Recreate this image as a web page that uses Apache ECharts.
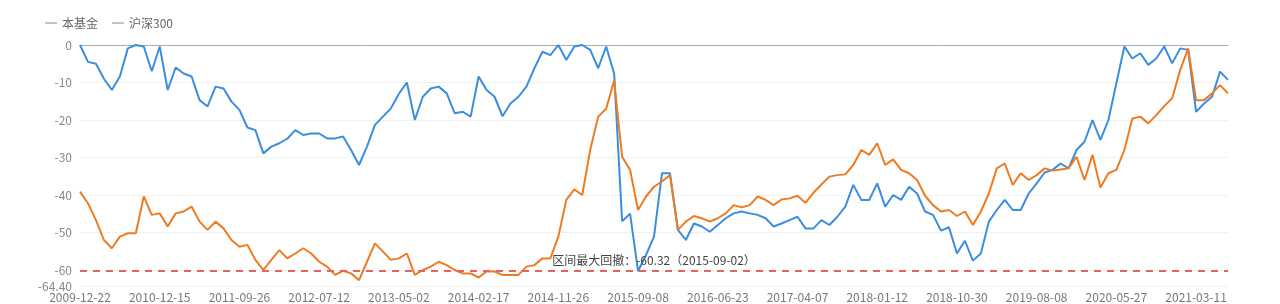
<!DOCTYPE html>
<html>
<head>
<meta charset="utf-8">
<script src="https://cdn.jsdelivr.net/npm/echarts@6/dist/echarts.min.js"></script>
<style>html,body{margin:0;padding:0;background:#fff}#c{width:1280px;height:304px}</style>
</head>
<body>
<div id="c"></div>
<script>
const seriesNames = ['本基金', '沪深300'];
const dates = [
'2009-12-22','2010-01-27','2010-03-04','2010-04-09','2010-05-17','2010-06-22','2010-07-28','2010-09-02','2010-10-11','2010-11-10',
'2010-12-15','2011-01-12','2011-02-10','2011-03-10','2011-04-08','2011-05-06','2011-06-03','2011-07-01','2011-07-29','2011-08-26',
'2011-09-26','2011-10-25','2011-11-22','2011-12-20','2012-01-18','2012-02-17','2012-03-16','2012-04-16','2012-05-15','2012-06-13',
'2012-07-12','2012-08-09','2012-09-07','2012-10-12','2012-11-09','2012-12-07','2013-01-08','2013-02-05','2013-03-08','2013-04-03',
'2013-05-02','2013-05-30','2013-06-28','2013-07-26','2013-08-23','2013-09-24','2013-10-25','2013-11-22','2013-12-20','2014-01-20',
'2014-02-17','2014-03-17','2014-04-14','2014-05-13','2014-06-10','2014-07-08','2014-08-05','2014-09-02','2014-09-30','2014-10-29',
'2014-11-26','2014-12-24','2015-01-22','2015-02-16','2015-03-20','2015-04-17','2015-05-15','2015-06-12','2015-07-10','2015-08-07',
'2015-09-08','2015-10-12','2015-11-09','2015-12-07','2016-01-05','2016-02-02','2016-03-08','2016-04-06','2016-05-04','2016-06-01',
'2016-06-23','2016-07-21','2016-08-18','2016-09-19','2016-10-24','2016-11-21','2016-12-19','2017-01-17','2017-02-20','2017-03-20',
'2017-04-07','2017-05-05','2017-06-02','2017-06-30','2017-07-28','2017-08-25','2017-09-22','2017-10-27','2017-11-24','2017-12-22',
'2018-01-12','2018-02-09','2018-03-14','2018-04-13','2018-05-14','2018-06-12','2018-07-11','2018-08-08','2018-09-05','2018-10-10',
'2018-10-30','2018-11-27','2018-12-25','2019-01-23','2019-02-27','2019-03-27','2019-04-25','2019-05-27','2019-06-25','2019-07-23',
'2019-08-08','2019-09-05','2019-10-10','2019-11-07','2019-12-05','2020-01-06','2020-02-10','2020-03-10','2020-04-08','2020-05-07',
'2020-05-27','2020-06-24','2020-07-23','2020-08-20','2020-09-17','2020-10-22','2020-11-19','2020-12-17','2021-01-15','2021-02-10',
'2021-03-11','2021-04-08','2021-05-07','2021-06-04','2021-07-02'
];
const fundDrawdown = [
0,-4.5,-5,-9,-12,-8.4,-0.9,0,-0.4,-7,
-0.4,-12,-6,-7.6,-8.4,-14.7,-16.4,-11.1,-11.6,-15.1,
-17.3,-22,-22.7,-28.9,-27.1,-26.2,-25,-22.7,-24,-23.6,
-23.6,-24.9,-24.9,-24.4,-28,-32,-27.1,-21.3,-19.1,-16.9,
-13,-10,-20,-13.8,-11.6,-11.1,-12.9,-18.2,-17.8,-19.1,
-8.4,-12,-13.8,-19,-15.6,-13.8,-11.1,-6.2,-1.8,-2.7,
0,-4,-0.4,0,-1.3,-6.2,-0.4,-7.6,-47,-45,
-60.32,-56,-51.1,-34.2,-34.2,-49.3,-52,-47.6,-48.4,-49.8,
-48,-46.2,-44.9,-44.4,-44.9,-45.3,-46.2,-48.4,-47.6,-46.7,
-45.8,-48.9,-48.9,-46.7,-48,-45.8,-43.1,-37.3,-41.3,-41.3,
-36.9,-43.1,-40,-41.3,-37.8,-39.6,-44.4,-45.3,-49.5,-48.6,
-55.6,-52.2,-57.5,-55.6,-47.1,-44,-41.3,-44,-44,-39.6,
-36.9,-34,-33.3,-31.6,-32.9,-28,-25.8,-20,-25.3,-20,
-10.2,-0.4,-3.6,-2.2,-5.3,-3.6,-0.4,-4.9,-0.9,-1.3,
-17.8,-15.6,-13.8,-7.1,-9.3
];
const hs300Drawdown = [
-39.1,-42.2,-46.7,-52,-54.2,-51.1,-50.2,-50.2,-40.4,-45.3,
-44.9,-48.4,-44.9,-44.4,-43.1,-47.1,-49.3,-47.1,-48.9,-52,
-53.8,-53.3,-57.3,-60,-57.3,-54.7,-56.9,-55.6,-54.2,-55.6,
-57.8,-59.1,-61.3,-60.2,-60.9,-62.7,-57.8,-52.9,-55.1,-57.3,
-56.9,-55.6,-61.3,-60,-59.1,-57.8,-58.7,-60,-60.9,-60.9,
-62,-60.4,-60.4,-61.3,-61.3,-61.3,-59.1,-58.7,-56.9,-56.9,
-51.1,-41.3,-38.5,-40,-28,-19.1,-17,-9.5,-29.8,-33.3,
-44,-40.4,-37.8,-36.4,-34.7,-49.3,-47.1,-45.6,-46.2,-47.1,
-46.2,-44.9,-42.7,-43.3,-42.7,-40.4,-41.3,-42.7,-41.2,-40.9,
-40.2,-42.1,-39.4,-37.2,-35.1,-34.7,-34.5,-32,-28,-29.3,
-26.2,-32,-30.5,-33.3,-34.2,-36,-40.2,-42.7,-44.4,-44,
-45.6,-44.4,-48,-44.4,-39.6,-32.9,-31.6,-37.3,-34.2,-36,
-34.7,-32.9,-33.5,-33.2,-32.9,-29.8,-36,-29.3,-38,-34.2,
-33.3,-28,-19.6,-19.1,-20.9,-18.7,-16.3,-14.2,-6.7,-0.9,
-14.7,-14.7,-12.9,-10.7,-12.9
];
const maxDrawdownValue = -60.32;
const maxDrawdownLabel = '区间最大回撤：-60.32（2015-09-02）';
const yMin = -64.4;

const chart = echarts.init(document.getElementById('c'));
const font = '"Noto Sans CJK SC", "Noto Sans", sans-serif';
chart.setOption({
  animation: false,
  textStyle: { fontFamily: font },
  color: ['#3b8ede', '#ef7b21'],
  legend: {
    left: 40, top: 12,
    itemWidth: 12, itemHeight: 10, itemGap: 14,
    icon: 'path://M0,5 L12,5 L12,6 L0,6 Z',
    textStyle: { color: '#666', fontSize: 12, fontFamily: font },
    itemStyle: { color: '#888' },
    data: seriesNames
  },
  grid: { left: 80, right: 52, top: 45, bottom: 17.5 },
  xAxis: [{
    type: 'category',
    data: dates,
    boundaryGap: false,
    axisLine: { show: false, onZero: false },
    axisTick: { show: false },
    axisLabel: { interval: 9, color: '#777', fontSize: 12, margin: 5, fontFamily: font }
  }, {
    type: 'category',
    data: dates,
    position: 'top',
    boundaryGap: false,
    axisLine: { show: true, onZero: false, lineStyle: { color: '#aaa', width: 1 } },
    axisTick: { show: false },
    axisLabel: { show: false }
  }],
  yAxis: {
    type: 'value',
    min: yMin, max: 0,
    splitNumber: 6,
    axisLine: { show: false },
    axisTick: { show: false },
    splitLine: { lineStyle: { color: '#f1f1f1' } },
    axisLabel: {
      color: '#888', fontSize: 12, fontFamily: font,
      formatter: v => Number.isInteger(v) ? String(v) : v.toFixed(2)
    }
  },
  series: [{
    name: seriesNames[0], type: 'line', data: fundDrawdown,
    symbol: 'none', lineStyle: { width: 2 },
    markLine: {
      silent: true, symbol: 'none',
      lineStyle: { color: '#e8635a', type: [7, 6], width: 2 },
      label: { position: 'middle', formatter: maxDrawdownLabel, color: '#444', fontSize: 12, fontFamily: font },
      data: [{ yAxis: maxDrawdownValue }]
    }
  }, {
    name: seriesNames[1], type: 'line', data: hs300Drawdown,
    symbol: 'none', lineStyle: { width: 2 }
  }]
});
</script>
</body>
</html>
